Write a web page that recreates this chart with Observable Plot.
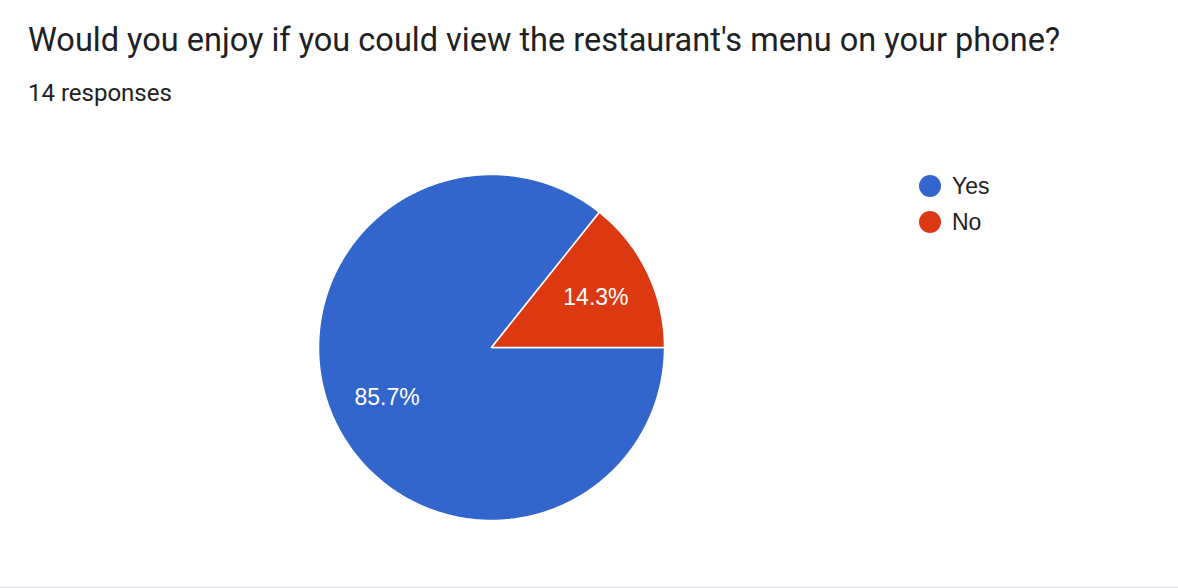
<!DOCTYPE html>
<html>
<head>
<meta charset="utf-8">
<script src="https://cdn.jsdelivr.net/npm/d3@7"></script>
<script src="https://cdn.jsdelivr.net/npm/@observablehq/plot@0.6"></script>
<style>
  html, body { margin: 0; padding: 0; background: #fff; }
  #wrap { position: relative; width: 1178px; height: 588px; overflow: hidden; border-bottom: 1px solid #dadce0; box-sizing: border-box; }
  #title { position: absolute; left: 28px; top: 23.5px; font-family: Roboto, sans-serif; font-size: 32.5px; line-height: 1; color: #202124; white-space: nowrap; }
  #sub { position: absolute; left: 28px; top: 80.5px; font-family: Roboto, sans-serif; font-size: 24px; line-height: 1; color: #202124; white-space: nowrap; }
  #chart { position: absolute; left: 0; top: 0; }
  #legend { position: absolute; left: 919px; top: 168px; font-family: "Liberation Sans", Arial, sans-serif; font-size: 23px; color: #222; }
  .item { display: flex; align-items: center; height: 36px; }
  .sw { width: 22px; height: 22px; border-radius: 50%; margin-right: 11px; }
</style>
</head>
<body>
<div id="wrap">
  <div id="title"></div>
  <div id="sub"></div>
  <div id="chart"></div>
  <div id="legend"></div>
</div>
<script>
const titleText = "Would you enjoy if you could view the restaurant's menu on your phone?";
const subtitleText = "14 responses";
const categories = ["Yes", "No"];
const counts = [12, 2];
const colors = ["#3366cc", "#dc3912"];

document.getElementById("title").textContent = titleText;
document.getElementById("sub").textContent = subtitleText;

const total = d3.sum(counts);
const data = categories.map((c, i) => ({category: c, value: counts[i]}));
const arcs = d3.pie().value(d => d.value).sort(null)
  .startAngle(Math.PI / 2).endAngle(Math.PI / 2 + 2 * Math.PI)(data);

// polygon points for each slice (angle clockwise from 12 o'clock)
const pts = [];
for (const a of arcs) {
  const cat = a.data.category;
  pts.push({category: cat, x: 0, y: 0});
  const n = Math.max(2, Math.ceil((a.endAngle - a.startAngle) / (Math.PI / 360)));
  for (let k = 0; k <= n; k++) {
    const t = a.startAngle + (a.endAngle - a.startAngle) * k / n;
    pts.push({category: cat, x: Math.sin(t), y: Math.cos(t)});
  }
  pts.push({category: cat, x: 0, y: 0});
}
const labels = arcs.map(a => {
  const m = (a.startAngle + a.endAngle) / 2;
  const r = 0.67;
  return {category: a.data.category, x: r * Math.sin(m), y: r * Math.cos(m),
          text: (a.data.value / total * 100).toFixed(1) + "%"};
});

const plot = Plot.plot({
  width: 1178,
  height: 588,
  marginLeft: 318,
  marginRight: 514,
  marginTop: 174,
  marginBottom: 68,
  x: {domain: [-1, 1], axis: null},
  y: {domain: [-1, 1], axis: null},
  color: {domain: categories, range: colors},
  style: {background: "transparent", overflow: "visible"},
  marks: [
    Plot.line(pts, {x: "x", y: "y", z: "category", fill: "category", stroke: "white", strokeWidth: 1.5, curve: "linear"}),
    Plot.text(labels, {x: "x", y: "y", text: "text", fill: "white", fontSize: 23, fontFamily: "'Liberation Sans', Arial, sans-serif"})
  ]
});
document.getElementById("chart").appendChild(plot);

const leg = document.getElementById("legend");
categories.forEach((c, i) => {
  const it = document.createElement("div");
  it.className = "item";
  const sw = document.createElement("div");
  sw.className = "sw";
  sw.style.background = colors[i];
  const tx = document.createElement("span");
  tx.textContent = c;
  it.appendChild(sw); it.appendChild(tx);
  leg.appendChild(it);
});
</script>
</body>
</html>
